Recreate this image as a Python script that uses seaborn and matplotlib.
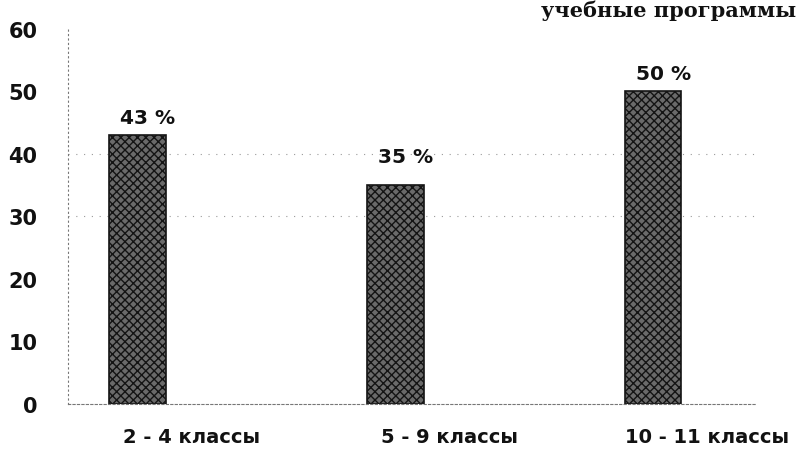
import matplotlib
matplotlib.use("Agg")
import matplotlib.pyplot as plt
import numpy as np
import seaborn as sns

## Data ##
categories = ["2 - 4 классы", "5 - 9 классы", "10 - 11 классы"]
values = [43, 35, 50]
value_labels = ["43 %", "35 %", "50 %"]
y_ticks = [0, 10, 20, 30, 40, 50, 60]
title_part = "учебные программы"

sns.set_theme(style="white")
plt.rcParams['font.family'] = ['DejaVu Sans']

fig = plt.figure(figsize=(8, 4.6), dpi=100)
ax = fig.add_axes([0.085, 0.12, 0.86, 0.815])

sns.barplot(x=categories, y=values, width=0.22, color="#6a6a6a", ax=ax)
for patch in ax.patches:
    patch.set_hatch("xxxx")
    patch.set_edgecolor("#141414")
    patch.set_linewidth(1.2)

# value labels above bars
pads = [6, 14, 6]
for patch, txt, pad in zip(ax.patches, value_labels, pads):
    ax.annotate(txt, (patch.get_x() + patch.get_width() / 2 + 0.04, patch.get_height()),
                xytext=(0, pad), textcoords="offset points",
                ha="center", va="bottom", fontsize=14.5, fontweight="semibold",
                color="#111111")

ax.set_ylim(0, 60)
ax.set_xlim(-0.27, 2.4)
ax.set_yticks(y_ticks)
ax.set_yticklabels([str(t) for t in y_ticks], fontsize=15, fontweight="semibold",
                   color="#111111")
ax.set_xticks(np.arange(len(categories)) + 0.21)
ax.set_xticklabels(categories, fontsize=14, color="#111111", fontweight="semibold")
ax.tick_params(axis="both", length=0)
ax.tick_params(axis="x", pad=17)
ax.tick_params(axis="y", pad=22)

# faint dotted grid like the scan
for y in [30, 40]:
    ax.axhline(y, color="#9a9a9a", lw=0.8, ls=(0, (1, 6)), zorder=0)

for side in ["top", "right"]:
    ax.spines[side].set_visible(False)
ax.spines["left"].set_linestyle((0, (1, 3)))
ax.spines["left"].set_color("#777777")
ax.spines["left"].set_linewidth(0.8)
ax.spines["bottom"].set_linestyle((0, (2, 2)))
ax.spines["bottom"].set_color("#777777")
ax.spines["bottom"].set_linewidth(0.8)
ax.set_xlabel("")
ax.set_ylabel("")

# heading fragment at the top of the scan
fig.text(0.995, 0.998, title_part, ha="right", va="top",
         fontsize=15, fontweight="bold", family="DejaVu Serif", color="#111111")

plt.savefig("out.png", dpi=100)
